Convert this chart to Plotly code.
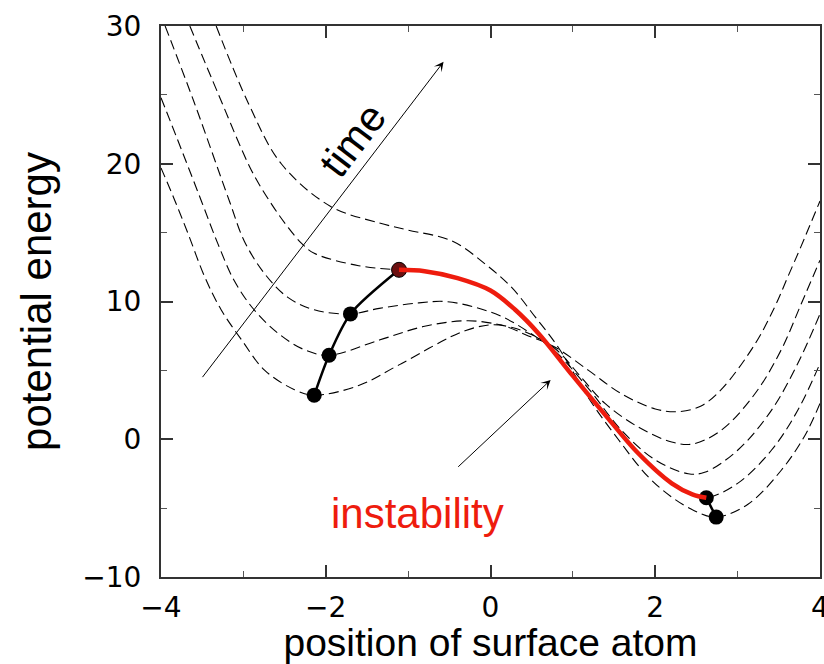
import plotly.graph_objects as go

# ---- data ----
# five dashed potential curves, in time order (C1 earliest)
c1_x = [-4.0, -3.83, -3.67, -3.47, -3.27, -3.02, -2.74, -2.38, -2.14, -1.6, -1.11, -0.3, 0.1, 0.46, 0.78, 1.19, 1.59, 2.0, 2.27, 2.55, 2.8, 3.21, 3.45, 3.61, 3.77, 4.0]
c1_y = [19.7, 17.3, 14.9, 11.8, 9.4, 7.2, 5.0, 3.6, 3.2, 3.9, 5.4, 7.9, 8.3, 7.5, 6.7, 5.0, 3.3, 2.2, 2.0, 2.4, 3.6, 6.9, 9.6, 11.8, 14.0, 17.3]

c2_x = [-4.0, -3.75, -3.51, -3.31, -3.11, -2.87, -2.58, -2.26, -1.96, -1.35, -0.8, -0.27, 0.2, 0.46, 0.8, 1.1, 1.39, 1.79, 2.2, 2.45, 2.8, 3.21, 3.53, 3.77, 4.0]
c2_y = [24.8, 21.0, 17.3, 14.2, 11.5, 9.4, 7.7, 6.5, 6.1, 7.2, 8.2, 8.6, 8.2, 7.7, 6.5, 4.5, 2.6, 0.9, -0.2, -0.35, 0.65, 3.3, 6.5, 9.8, 13.0]

c3_x = [-3.95, -3.6, -3.17, -2.99, -2.74, -2.46, -2.14, -1.7, -1.35, -0.87, -0.55, -0.2, 0.14, 0.46, 0.8, 1.2, 1.59, 2.0, 2.4, 2.6, 3.0, 3.41, 3.73, 4.0]
c3_y = [30.0, 24.5, 17.3, 14.4, 12.0, 10.3, 9.4, 9.1, 9.5, 9.9, 10.0, 9.6, 8.9, 7.8, 6.3, 3.6, 0.65, -1.5, -2.5, -2.4, -0.8, 2.1, 5.5, 9.1]

c4_x = [-3.65, -3.3, -2.9, -2.65, -2.46, -2.29, -2.14, -1.6, -1.11, -0.8, -0.4, 0.0, 0.3, 0.58, 1.0, 1.43, 1.79, 2.2, 2.45, 2.62, 3.0, 3.41, 3.73, 4.0]
c4_y = [30.0, 25.0, 19.5, 17.0, 15.4, 14.2, 13.5, 12.6, 12.3, 12.2, 11.7, 10.8, 9.4, 7.7, 4.6, 1.5, -1.0, -3.2, -4.0, -4.25, -3.2, -0.8, 2.1, 5.5]

c5_x = [-3.33, -2.94, -2.54, -1.94, -1.35, -1.01, -0.47, -0.06, 0.26, 0.54, 0.82, 1.2, 1.55, 1.91, 2.2, 2.48, 2.74, 3.13, 3.53, 3.81, 4.0]
c5_y = [30.0, 24.4, 20.0, 16.9, 15.7, 15.2, 14.4, 12.7, 11.0, 8.9, 6.7, 2.9, 0.0, -2.7, -4.2, -5.2, -5.65, -4.7, -2.25, 0.2, 2.6]

# atom positions (black dots) while the left well rises
atom_x = [-2.14, -1.96, -1.70, -1.11]
atom_y = [3.2, 6.1, 9.1, 12.3]
# red instability path along the last curve
red_x = [-1.11, -0.8, -0.4, 0.0, 0.3, 0.58, 1.0, 1.43, 1.79, 2.2, 2.45, 2.62]
red_y = [12.3, 12.2, 11.7, 10.8, 9.4, 7.7, 4.6, 1.5, -1.0, -3.2, -4.0, -4.25]
# final relaxation
end_x = [2.62, 2.74]
end_y = [-4.25, -5.65]

x_ticks = [-4, -2, 0, 2, 4]
y_ticks = [-10, 0, 10, 20, 30]

FONT = "Liberation Sans, Arial, sans-serif"
TICKFONT = "DejaVu Sans, sans-serif"

fig = go.Figure()
for cx, cy in [(c1_x, c1_y), (c2_x, c2_y), (c3_x, c3_y), (c4_x, c4_y), (c5_x, c5_y)]:
    fig.add_trace(go.Scatter(x=cx, y=cy, mode="lines",
                             line=dict(color="black", width=1.1, dash="10px,5px", shape="spline", smoothing=1.0),
                             hoverinfo="skip"))

fig.add_trace(go.Scatter(x=atom_x, y=atom_y, mode="lines",
                         line=dict(color="black", width=2.5, shape="spline", smoothing=0.8)))
fig.add_trace(go.Scatter(x=end_x, y=end_y, mode="lines", line=dict(color="black", width=2.5)))
fig.add_trace(go.Scatter(x=atom_x[:3] + end_x, y=atom_y[:3] + end_y, mode="markers",
                         marker=dict(color="black", size=15)))
fig.add_trace(go.Scatter(x=[atom_x[3]], y=[atom_y[3]], mode="markers",
                         marker=dict(color="#6b1010", size=15, line=dict(color="black", width=1))))
fig.add_trace(go.Scatter(x=red_x, y=red_y, mode="lines",
                         line=dict(color="#ee1c0e", width=4.5, shape="spline", smoothing=1.0)))

annotations = [
    dict(x=-0.57, y=27.4, ax=-3.51, ay=4.4, xref="x", yref="y", axref="x", ayref="y",
         text="", showarrow=True, arrowhead=3, arrowsize=1.6, arrowwidth=1, arrowcolor="black"),
    dict(x=0.73, y=4.3, ax=-0.41, ay=-2.1, xref="x", yref="y", axref="x", ayref="y",
         text="", showarrow=True, arrowhead=3, arrowsize=1.6, arrowwidth=1, arrowcolor="black"),
    dict(x=-1.68, y=21.7, xref="x", yref="y", text="time", showarrow=False, textangle=-52.7,
         font=dict(family=FONT, size=42, color="black")),
    dict(x=-0.89, y=-5.4, xref="x", yref="y", text="instability", showarrow=False,
         font=dict(family=FONT, size=42, color="#ee1c0e")),
]

axis_common = dict(showline=True, linecolor="#333333", linewidth=2, mirror="ticks",
                   ticks="inside", ticklen=12, tickwidth=1.5, tickcolor="#333333",
                   showgrid=False, zeroline=False, automargin=False,
                   tickfont=dict(family=TICKFONT, size=28, color="black"),
                   ticklabeloverflow="allow",
                   minor=dict(ticks="inside", ticklen=6, tickwidth=1, tickcolor="#555555"))

fig.update_layout(
    width=824, height=664,
    margin=dict(l=161, r=4, t=26, b=87),
    plot_bgcolor="white", paper_bgcolor="white",
    showlegend=False,
    annotations=annotations,
    xaxis=dict(range=[-4, 4], tickvals=x_ticks, minor_dtick=1, ticklabelstandoff=4,
               title=dict(text="position of surface atom", font=dict(family=FONT, size=39, color="black"), standoff=0),
               **axis_common),
    yaxis=dict(range=[-10, 30], tickvals=y_ticks, minor_dtick=5, ticklabelstandoff=12,
               title=dict(text="potential energy", font=dict(family=FONT, size=42, color="black"), standoff=18),
               **axis_common),
)

fig.write_html("out.html", config={"displayModeBar": False},
               post_script="document.body.style.margin='0';document.body.style.overflow='hidden';")
